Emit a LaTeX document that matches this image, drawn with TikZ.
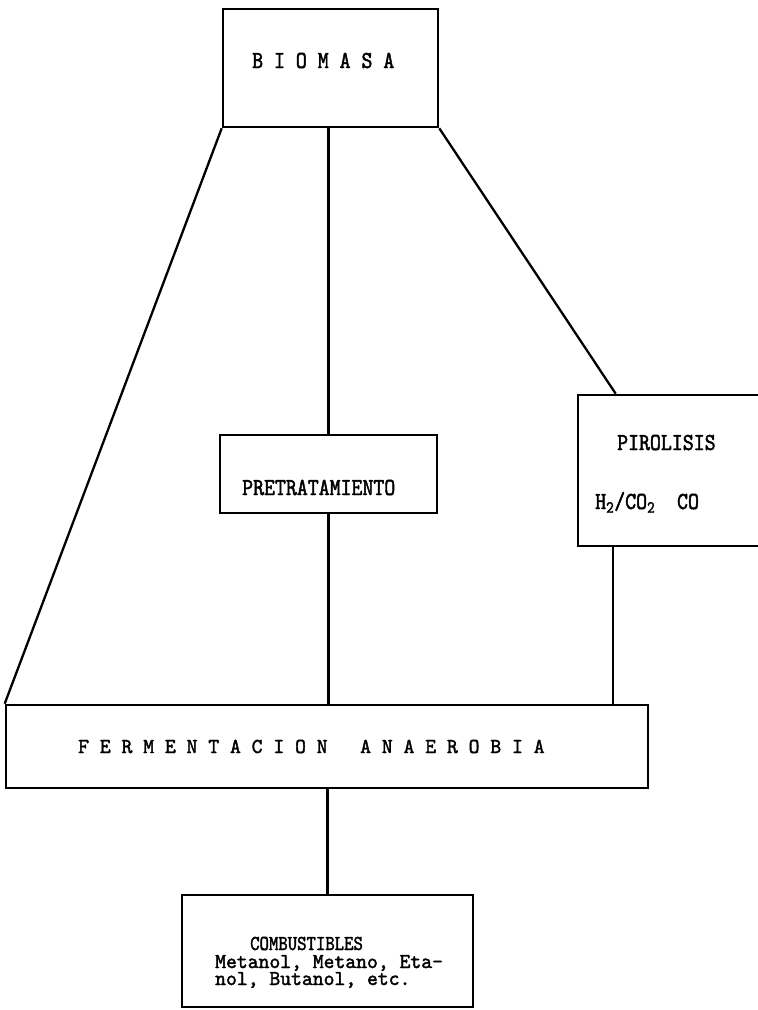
\documentclass[tikz,border=0pt]{standalone}
\usepackage{fontspec}
\newfontfamily\twA[FakeStretch=0.85,FakeBold=1.8]{lmmono10-regular.otf}
\newfontfamily\twB[FakeStretch=0.97,FakeBold=1.8]{lmmono10-regular.otf}
\newfontfamily\twC[FakeStretch=0.84,FakeBold=1.8]{lmmono10-regular.otf}
\begin{document}
\begin{tikzpicture}[x=1pt,y=-1pt,
  box/.style={draw,line width=2.6pt,inner sep=0pt,rectangle},
  conn/.style={line width=2.3pt},
  lbl/.style={inner sep=0pt,anchor=base west},
  small/.style={lbl,text height=13pt,text depth=3pt}]
\useasboundingbox (0,0) rectangle (758,1010);
% boxes
\node[box,minimum width=215pt,minimum height=118pt] (bio) at (330.5,68) {};
\node[box,minimum width=217pt,minimum height=78pt] (pre) at (328.5,474) {};
\node[box,minimum width=184pt,minimum height=151pt] (pir) at (670,470.5) {};
\node[box,minimum width=642pt,minimum height=83pt] (fer) at (327,746.5) {};
\node[box,minimum width=291pt,minimum height=112pt] (com) at (327.5,951) {};
% texts
\node[lbl] (tbio) at (252,68) {\twA\fontsize{24.5}{26}\selectfont B I O M A S A};
\node[lbl] (tpre) at (242,495) {\twA\fontsize{24.5}{26}\selectfont PRETRATAMIENTO};
\node[lbl] (tpir) at (617,450) {\twA\fontsize{24.5}{26}\selectfont PIROLISIS};
\node[lbl] (tgas) at (595,509) {\twA\fontsize{24.5}{26}\selectfont H\textsubscript{2}/CO\textsubscript{2}\ \ CO};
\node[lbl] (tfer) at (78,753) {\twB\fontsize{21.3}{24}\selectfont F E R M E N T A C I O N\ \ \ A N A E R O B I A};
\node[small] (tcom) at (250,950) {\twC\fontsize{21.3}{24}\selectfont COMBUSTIBLES};
\node[small] (tme) at (215,968) {\twB\fontsize{21.3}{24}\selectfont Metanol, Metano, Eta-};
\node[small] (tbu) at (215,985) {\twB\fontsize{21.3}{24}\selectfont nol, Butanol, etc.};
% connectors
\draw[conn] (bio.south west) -- (fer.north west);
\draw[conn] (pre.north) -- (pre.north |- bio.south);
\draw[conn] (bio.south east) -- ([xshift=39pt]pir.north west);
\draw[conn] (pre.south) -- (pre.south |- fer.north);
\draw[conn] ([xshift=36pt]pir.south west) -- ([xshift=36pt]pir.south west |- fer.north);
\draw[conn] (com.north) -- (com.north |- fer.south);
\end{tikzpicture}
\end{document}
